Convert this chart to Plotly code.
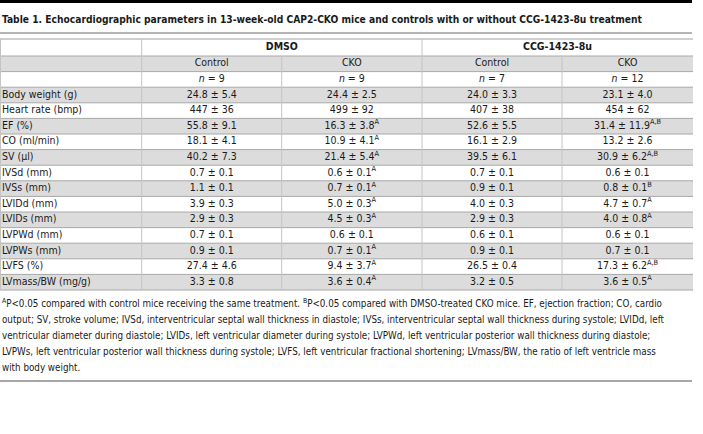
import plotly.graph_objects as go

# ---------------- data ----------------
title = "Table 1. Echocardiographic parameters in 13-week-old CAP2-CKO mice and controls with or without CCG-1423-8u treatment"
treatments = ["DMSO", "CCG-1423-8u"]
groups = ["Control", "CKO", "Control", "CKO"]
group_n = [9, 9, 7, 12]

params = ["Body weight (g)", "Heart rate (bmp)", "EF (%)", "CO (ml/min)", "SV (µl)",
          "IVSd (mm)", "IVSs (mm)", "LVIDd (mm)", "LVIDs (mm)", "LVPWd (mm)",
          "LVPWs (mm)", "LVFS (%)", "LVmass/BW (mg/g)"]

dmso_control = ["24.8 ± 5.4", "447 ± 36", "55.8 ± 9.1", "18.1 ± 4.1", "40.2 ± 7.3",
                "0.7 ± 0.1", "1.1 ± 0.1", "3.9 ± 0.3", "2.9 ± 0.3", "0.7 ± 0.1",
                "0.9 ± 0.1", "27.4 ± 4.6", "3.3 ± 0.8"]
dmso_cko = ["24.4 ± 2.5", "499 ± 92", "16.3 ± 3.8", "10.9 ± 4.1", "21.4 ± 5.4",
            "0.6 ± 0.1", "0.7 ± 0.1", "5.0 ± 0.3", "4.5 ± 0.3", "0.6 ± 0.1",
            "0.7 ± 0.1", "9.4 ± 3.7", "3.6 ± 0.4"]
dmso_cko_sig = ["", "", "A", "A", "A", "A", "A", "A", "A", "", "A", "A", "A"]
ccg_control = ["24.0 ± 3.3", "407 ± 38", "52.6 ± 5.5", "16.1 ± 2.9", "39.5 ± 6.1",
               "0.7 ± 0.1", "0.9 ± 0.1", "4.0 ± 0.3", "2.9 ± 0.3", "0.6 ± 0.1",
               "0.9 ± 0.1", "26.5 ± 0.4", "3.2 ± 0.5"]
ccg_cko = ["23.1 ± 4.0", "454 ± 62", "31.4 ± 11.9", "13.2 ± 2.6", "30.9 ± 6.2",
           "0.6 ± 0.1", "0.8 ± 0.1", "4.7 ± 0.7", "4.0 ± 0.8", "0.6 ± 0.1",
           "0.7 ± 0.1", "17.3 ± 6.2", "3.6 ± 0.5"]
ccg_cko_sig = ["", "", "A,B", "", "A,B", "", "B", "A", "A", "", "", "A,B", "A"]

footnote_lines = [
    "<sup>A</sup>P<0.05 compared with control mice receiving the same treatment. <sup>B</sup>P<0.05 compared with DMSO-treated CKO mice. EF, ejection fraction; CO, cardio",
    "output; SV, stroke volume; IVSd, interventricular septal wall thickness in diastole; IVSs, interventricular septal wall thickness during systole; LVIDd, left",
    "ventricular diameter during diastole; LVIDs, left ventricular diameter during systole; LVPWd, left ventricular posterior wall thickness during diastole;",
    "LVPWs, left ventricular posterior wall thickness during systole; LVFS, left ventricular fractional shortening; LVmass/BW, the ratio of left ventricle mass",
    "with body weight.",
]

# ---------------- layout constants ----------------
W, H = 703, 434
FONT = "Liberation Sans Narrow, DejaVu Sans Condensed, Roboto, sans-serif"
TXT = "#1a1a1a"
GRAY_FILL = "#dcdcdc"
HLINE = "#a8a8a8"
VLINE = "#c4c4c4"
X_LEFT, X_RIGHT = 0, 693
COL_EDGES = [0, 141.7, 281.7, 422, 562, 693]
TABLE_TOP = 39
HEAD_H = 17
ROW_H = 15.6
CELL_SIZE = 10.5
TITLE_SIZE = 10.2
NOTE_SIZE = 9.75


def row_top(i):
    # i = 0 -> group row, 1 -> n row, 2.. -> data rows
    return TABLE_TOP + HEAD_H + i * ROW_H


def row_mid(i):
    return row_top(i) + ROW_H / 2


def col_mid(c):
    return (COL_EDGES[c] + COL_EDGES[c + 1]) / 2


n_rows = 2 + len(params)
table_bottom = row_top(n_rows)

fig = go.Figure()
shapes = []

# top black bar
shapes.append(dict(type="rect", xref="x", yref="y", x0=0, x1=692, y0=0, y1=3,
                   fillcolor="black", line=dict(width=0), layer="below"))
# title rule
shapes.append(dict(type="line", xref="x", yref="y", x0=0, x1=692, y0=33, y1=33,
                   line=dict(color="#6a6a6a", width=1)))

# row fills (alternating, starting with group row gray)
for i in range(n_rows):
    if i % 2 == 0:
        shapes.append(dict(type="rect", xref="x", yref="y", x0=X_LEFT, x1=X_RIGHT,
                           y0=row_top(i), y1=row_top(i + 1), fillcolor=GRAY_FILL,
                           line=dict(width=0), layer="below"))

# horizontal lines
shapes.append(dict(type="line", xref="x", yref="y", x0=X_LEFT, x1=X_RIGHT,
                   y0=TABLE_TOP, y1=TABLE_TOP, line=dict(color="#cfcfcf", width=2)))
for i in range(n_rows + 1):
    y = row_top(i)
    shapes.append(dict(type="line", xref="x", yref="y", x0=X_LEFT, x1=X_RIGHT,
                       y0=y, y1=y, line=dict(color=HLINE, width=1)))

# vertical lines
shapes.append(dict(type="line", xref="x", yref="y", x0=0.5, x1=0.5,
                   y0=TABLE_TOP, y1=table_bottom, line=dict(color=VLINE, width=1)))
for k, xe in enumerate(COL_EDGES[1:-1], start=1):
    y0 = TABLE_TOP if k in (1, 3) else row_top(0)
    shapes.append(dict(type="line", xref="x", yref="y", x0=xe, x1=xe,
                       y0=y0, y1=table_bottom, line=dict(color=VLINE, width=1)))

# bottom rule
shapes.append(dict(type="line", xref="x", yref="y", x0=0, x1=692, y0=381, y1=381,
                   line=dict(color="#8a8a8a", width=1.5)))

# ---------------- cell text ----------------
fig.add_trace(go.Scatter(
    x=[2] * len(params), y=[row_mid(2 + i) for i in range(len(params))],
    text=params, mode="text", textposition="middle right",
    textfont=dict(family=FONT, size=CELL_SIZE, color=TXT), hoverinfo="skip",
    showlegend=False))


def with_sig(vals, sigs=None):
    if sigs is None:
        return vals
    return [v + (f"<sup>{s}</sup>" if s else "") for v, s in zip(vals, sigs)]


columns = [with_sig(dmso_control), with_sig(dmso_cko, dmso_cko_sig),
           with_sig(ccg_control), with_sig(ccg_cko, ccg_cko_sig)]
for c, vals in enumerate(columns, start=1):
    texts = [groups[c - 1], f"<i>n</i> = {group_n[c - 1]}"] + vals
    fig.add_trace(go.Scatter(
        x=[col_mid(c)] * len(texts), y=[row_mid(i) for i in range(len(texts))],
        text=texts, mode="text", textposition="middle center",
        textfont=dict(family=FONT, size=CELL_SIZE, color=TXT), hoverinfo="skip",
        showlegend=False))

fig.add_trace(go.Scatter(
    x=[(COL_EDGES[1] + COL_EDGES[3]) / 2, (COL_EDGES[3] + COL_EDGES[5]) / 2],
    y=[TABLE_TOP + HEAD_H / 2] * 2,
    text=[f"<b>{t}</b>" for t in treatments], mode="text", textposition="middle center",
    textfont=dict(family=FONT, size=CELL_SIZE, color=TXT), hoverinfo="skip",
    showlegend=False))

annotations = [dict(x=0, y=19, xref="x", yref="y", xanchor="left", yanchor="middle",
                    text=f"<b>{title}</b>", showarrow=False,
                    font=dict(family=FONT, size=TITLE_SIZE, color=TXT))]
for k, line in enumerate(footnote_lines):
    annotations.append(dict(x=0, y=303 + k * 16, xref="x", yref="y", xanchor="left",
                            yanchor="middle", text=line, showarrow=False,
                            font=dict(family=FONT, size=NOTE_SIZE, color=TXT)))

fig.update_layout(
    width=W, height=H, margin=dict(l=0, r=0, t=0, b=0),
    paper_bgcolor="white", plot_bgcolor="white",
    xaxis=dict(range=[0, W], visible=False, fixedrange=True),
    yaxis=dict(range=[H, 0], visible=False, fixedrange=True),
    shapes=shapes, annotations=annotations,
)

fig.write_html("out.html", config={"displayModeBar": False, "staticPlot": True},
               post_script="document.body.style.margin='0';document.body.style.padding='0';")
